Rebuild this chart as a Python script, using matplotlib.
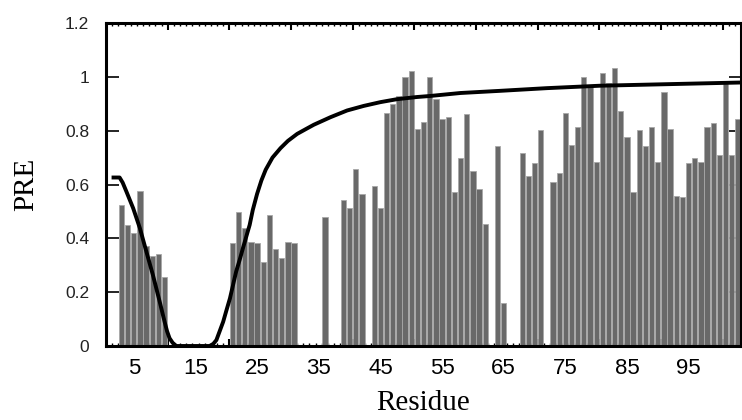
import matplotlib
matplotlib.use('Agg')
import matplotlib.pyplot as plt
import numpy as np

# residue numbers and measured PRE values (bars)
residues = [3, 4, 5, 6, 7, 8, 9, 10,
            21, 22, 23, 24, 25, 26, 27, 28, 29, 30, 31,
            36, 39, 40, 41, 42, 44, 45, 46, 47, 48, 49, 50,
            51, 52, 53, 54, 55, 56, 57, 58, 59, 60, 61, 62,
            64, 65, 68, 69, 70, 71, 73, 74, 75, 76, 77, 78, 79, 80,
            81, 82, 83, 84, 85, 86, 87, 88, 89, 90, 91, 92, 93, 94,
            95, 96, 97, 98, 99, 100, 101, 102, 103]
pre = [0.524, 0.450, 0.421, 0.577, 0.37, 0.335, 0.342, 0.258,
       0.384, 0.499, 0.437, 0.388, 0.384, 0.311, 0.487, 0.359, 0.328, 0.388, 0.384,
       0.48, 0.542, 0.511, 0.657, 0.565, 0.596, 0.511, 0.864, 0.90, 0.929, 1.001, 1.02,
       0.808, 0.833, 1.0, 0.916, 0.844, 0.851, 0.571, 0.70, 0.863, 0.651, 0.584, 0.452,
       0.743, 0.158, 0.716, 0.632, 0.681, 0.801, 0.609, 0.644, 0.864, 0.748, 0.814,
       1.001, 0.961, 0.685,
       1.013, 0.978, 1.032, 0.874, 0.778, 0.571, 0.801, 0.742, 0.814, 0.685, 0.942,
       0.807, 0.558, 0.553,
       0.681, 0.70, 0.685, 0.814, 0.827, 0.711, 0.984, 0.711, 0.843]

# calculated PRE profile (line)
curve_x = [1.4, 2.7, 3.2, 3.8, 4.9, 6.0, 7.05, 8.1, 9.2, 10.0, 10.4, 10.8,
           11.3, 11.9, 17.3, 17.9, 18.4, 19.5, 20.0, 20.6, 21.6, 22.2, 22.7,
           23.8, 24.3, 25.0, 25.7, 26.4, 27.5, 28.8, 30.0, 31.5, 33.0, 34.2,
           36.9, 39.6, 42.3, 45.0, 47.7, 50.9, 53.1, 58.0, 64.4, 72.0, 80.6,
           92.0, 103.5]
curve_y = [0.626, 0.626, 0.607, 0.574, 0.512, 0.437, 0.35, 0.264, 0.165, 0.09,
           0.055, 0.029, 0.012, 0.0, 0.0, 0.008, 0.022, 0.09, 0.13, 0.177,
           0.276, 0.322, 0.363, 0.45, 0.505, 0.565, 0.615, 0.655, 0.70, 0.735,
           0.762, 0.788, 0.807, 0.822, 0.85, 0.875, 0.892, 0.906, 0.917, 0.925,
           0.929, 0.94, 0.948, 0.958, 0.967, 0.973, 0.979]

label_pos = [5, 15, 25, 35, 45, 55, 65, 75, 85, 95]

fig = plt.figure(figsize=(7.42, 4.2), dpi=100)
ax = fig.add_axes([0.1429, 0.1762, 0.8558, 0.769])

ax.bar(residues, pre, width=0.86, color='#696969', edgecolor='#a8a8a8',
       linewidth=0.6, zorder=2)
ax.plot(curve_x, curve_y, color='black', lw=2.8, solid_joinstyle='round',
        solid_capstyle='butt', zorder=3)

ax.set_xlim(0.5, 103.5)
ax.set_ylim(0, 1.2)

# y axis
ax.set_yticks([0, 0.2, 0.4, 0.6, 0.8, 1.0, 1.2])
ax.set_yticklabels(['0', '0.2', '0.4', '0.6', '0.8', '1', '1.2'],
                   fontfamily='Liberation Sans')
ax.tick_params(axis='y', direction='in', length=9, width=1.2, labelsize=12.5,
               pad=12, right=True, color='black', labelcolor='#222222')

# x axis ticks: big every 10, small every residue, labels in between
ax.set_xticks(np.arange(10.5, 104, 10))
ax.set_xticks(np.arange(0.5, 104, 1), minor=True)
ax.tick_params(axis='x', which='major', direction='in', length=5, width=1.5,
               labelbottom=False, top=True)
ax.tick_params(axis='x', which='minor', direction='in', length=2.5, width=1,
               top=True)

sec = ax.secondary_xaxis('bottom')
sec.set_xticks(label_pos)
sec.set_xticklabels([str(v) for v in label_pos], fontfamily='Liberation Sans')
sec.tick_params(length=0, labelsize=16, pad=9)
sec.spines['bottom'].set_visible(False)

for s in ax.spines.values():
    s.set_linewidth(2.2)

ax.set_ylabel('PRE', fontfamily='Liberation Serif', fontsize=21, va='center')
ax.yaxis.set_label_coords(-0.125, 0.5)
ax.set_xlabel('Residue', fontfamily='Liberation Serif', fontsize=21, va='center')
ax.xaxis.set_label_coords(0.5, -0.176)

plt.savefig('out.png', dpi=100)
